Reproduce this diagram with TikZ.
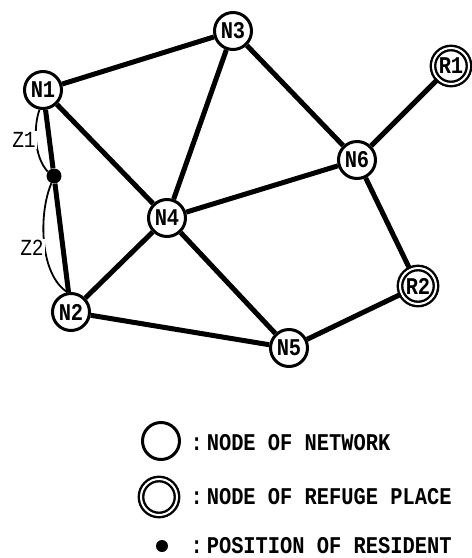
\documentclass[tikz,border=0pt]{standalone}
\usepackage{fontspec}
\newfontfamily\netfont{Liberation Mono}[FakeStretch=0.85]
\begin{document}
\begin{tikzpicture}[x=1pt,y=-1pt,
    font=\netfont\bfseries\fontsize{24}{26}\selectfont,
    netnode/.style={circle,draw,line width=3pt,fill=white,minimum size=37pt,inner sep=0pt},
    refnode/.style={circle,draw,double,line width=2.4pt,double distance=2pt,fill=white,minimum size=36pt,inner sep=0pt},
    resident/.style={circle,fill,minimum size=15pt,inner sep=0pt},
    link/.style={line width=5pt},
    span/.style={line width=1.8pt},
    zlabel/.style={fill=white,inner sep=1.5pt,font=\netfont\fontsize{23}{25}\selectfont}]
  \useasboundingbox (0,0) rectangle (472,558);
  % network
  \node[netnode] (N1) at (43,90) {N1};
  \node[netnode] (N2) at (71,312) {N2};
  \node[netnode] (N3) at (233,31) {N3};
  \node[netnode] (N4) at (167,218) {N4};
  \node[netnode] (N5) at (289,348) {N5};
  \node[netnode] (N6) at (357,160) {N6};
  \node[refnode] (R1) at (451,66) {R1};
  \node[refnode] (R2) at (418,286) {R2};
  \node[resident] (res) at (54,176) {};
  \draw[link] (N1) -- (N3);
  \draw[link] (N1) -- (N4);
  \draw[link] (N1) -- (res) -- (N2);
  \draw[link] (N3) -- (N4);
  \draw[link] (N3) -- (N6);
  \draw[link] (N6) -- (R1);
  \draw[link] (N6) -- (N4);
  \draw[link] (N6) -- (R2);
  \draw[link] (N4) -- (N2);
  \draw[link] (N4) -- (N5);
  \draw[link] (N2) -- (N5);
  \draw[link] (N5) -- (R2);
  % distances from the resident
  \draw[span] (N1.260) .. controls +(-6,16) and +(-14,-15) .. (res.145);
  \node[zlabel] (z1) at (24,140) {Z1};
  \draw[span] (res.250) .. controls (38,215) and (40,275) .. (N2.100);
  \node[zlabel] (z2) at (32,248) {Z2};
  % legend
  \node[netnode] (keynet) at (161,441) {};
  \node[refnode] (keyref) at (159,497) {};
  \node[resident,minimum size=12pt] (keyres) at (162,546) {};
  \node[anchor=west] (txtnet) at (187,443) {:\,NODE OF NETWORK};
  \node[anchor=west] (txtref) at (187,497) {:\,NODE OF REFUGE PLACE};
  \node[anchor=west] (txtres) at (187,546) {:\,POSITION OF RESIDENT};
\end{tikzpicture}
\end{document}
